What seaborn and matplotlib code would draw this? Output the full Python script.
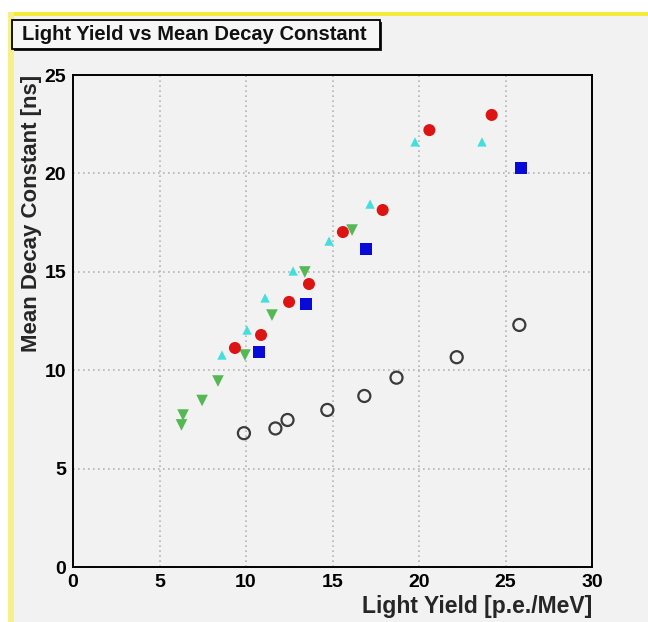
import matplotlib
matplotlib.use("Agg")
import matplotlib.pyplot as plt
from matplotlib.patches import Rectangle
from matplotlib.ticker import MultipleLocator
import seaborn as sns
import pandas as pd

# Light yield [p.e./MeV] and mean decay constant [ns] for each sample set
red_x = [9.36, 10.87, 12.49, 13.64, 15.6, 17.9, 20.6, 24.2]
red_y = [11.13, 11.79, 13.47, 14.38, 17.02, 18.14, 22.2, 22.97]

blue_x = [10.75, 13.47, 16.94, 25.9]
blue_y = [10.92, 13.36, 16.16, 20.27]

cyan_x = [8.61, 10.06, 11.1, 12.72, 14.8, 17.17, 19.77, 23.64]
cyan_y = [10.77, 12.04, 13.67, 15.04, 16.56, 18.44, 21.6, 21.6]

green_x = [6.36, 6.27, 7.46, 8.38, 9.94, 11.5, 13.4, 16.13]
green_y = [7.72, 7.22, 8.46, 9.45, 10.77, 12.8, 14.99, 17.12]

open_x = [9.88, 11.7, 12.4, 14.7, 16.84, 18.7, 22.18, 25.8]
open_y = [6.8, 7.04, 7.47, 7.98, 8.69, 9.62, 10.66, 12.3]

title = "Light Yield vs Mean Decay Constant"
xlabel = "Light Yield [p.e./MeV]"
ylabel = "Mean Decay Constant [ns]"

sns.set_style("white")
plt.rcParams["font.family"] = ["Liberation Sans", "DejaVu Sans"]
plt.rcParams["font.weight"] = "bold"

bg = "#f2f2f2"
fig = plt.figure(figsize=(6.48, 6.22), dpi=100, facecolor=bg)
W, H = 648, 622

def fig_rect(x0, y0, x1, y1, **kw):
    # rectangle given in pixel coordinates measured from the top-left corner
    r = Rectangle((x0 / W, 1 - y1 / H), (x1 - x0) / W, (y1 - y0) / H,
                  transform=fig.transFigure, **kw)
    fig.patches.append(r)
    return r

# canvas frame: white margin, yellow edge lines
fig_rect(0, 0, W, 12, facecolor="white", edgecolor="none", zorder=0)
fig_rect(0, 0, 8, H, facecolor="white", edgecolor="none", zorder=0)
fig_rect(8, 12, W, 16, facecolor="#f5ec3a", edgecolor="none", zorder=1)
fig_rect(8, 12, 14, H, facecolor="#f7f08a", edgecolor="none", zorder=1)

ax = fig.add_axes([73 / W, 1 - 567 / H, (592 - 73) / W, (567 - 75) / H])
ax.set_facecolor(bg)

series = [
    (open_x, open_y, dict(marker="o", s=75, facecolor="none", edgecolor="#3a3a3a", linewidth=1.6)),
    (green_x, green_y, dict(marker="v", s=70, color="#55b855", edgecolor="none")),
    (cyan_x, cyan_y, dict(marker="^", s=45, color="#45dede", edgecolor="none")),
    (red_x, red_y, dict(marker="o", s=75, color="#dc1414", edgecolor="none")),
    (blue_x, blue_y, dict(marker="s", s=80, color="#0a0ad8", edgecolor="none")),
]
for xs, ys, kw in series:
    df = pd.DataFrame({"x": xs, "y": ys})
    sns.scatterplot(data=df, x="x", y="y", ax=ax, legend=False, zorder=3, **kw)

ax.set_xlim(0, 30)
ax.set_ylim(0, 25)
ax.xaxis.set_major_locator(MultipleLocator(5))
ax.yaxis.set_major_locator(MultipleLocator(5))
ax.xaxis.set_minor_locator(MultipleLocator(1))
ax.yaxis.set_minor_locator(MultipleLocator(1))
ax.grid(True, which="major", color="#b4b4b4", linestyle=(0, (1, 2)), linewidth=1.2, zorder=1)

for sp in ax.spines.values():
    sp.set_visible(True)
    sp.set_color("black")
    sp.set_linewidth(1.4)

ax.tick_params(which="both", direction="in", top=False, right=False, colors="black")
ax.tick_params(which="major", length=8, width=1.2, labelsize=14, pad=5)
ax.tick_params(which="minor", length=4.5, width=1.0)
for lab in ax.get_xticklabels() + ax.get_yticklabels():
    lab.set_fontweight("bold")

ax.set_xlabel(xlabel, fontsize=16.5, fontweight="bold", loc="right", labelpad=3)
ax.set_ylabel(ylabel, fontsize=16, fontweight="bold", loc="top", labelpad=2)

# title box with a drop shadow
fig_rect(14, 22, 382, 51, facecolor="#222222", edgecolor="none", zorder=4)
fig_rect(12, 20, 380, 49, facecolor="#f6f6f6", edgecolor="black", linewidth=1.3, zorder=5)
fig.text(22 / W, 1 - 35 / H, title, fontsize=14.5, fontweight="bold",
         ha="left", va="center", color="#111111", zorder=6)

fig.savefig("out.png", dpi=100, facecolor=bg)
